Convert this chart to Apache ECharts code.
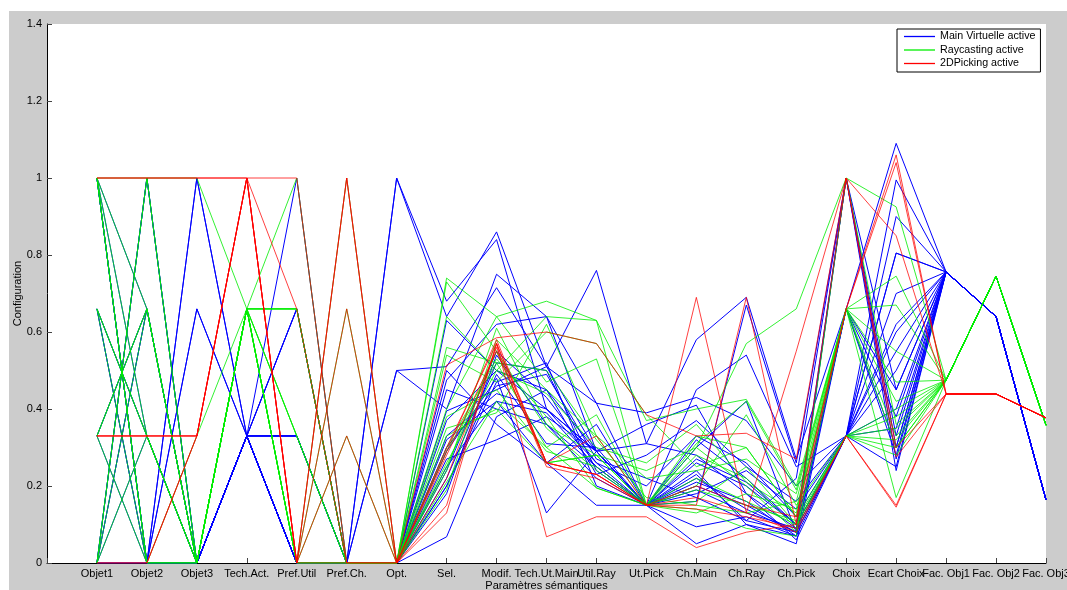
<!DOCTYPE html>
<html><head><meta charset="utf-8">
<script src="https://cdn.jsdelivr.net/npm/echarts/dist/echarts.min.js"></script>
<style>
html,body{margin:0;padding:0;background:#fff;}
#bg{position:absolute;left:9px;top:11px;width:1058px;height:579px;background:#cccccc;}
#chart{position:absolute;left:0;top:0;width:1067px;height:590px;}
</style></head><body><div id="bg"></div><div id="chart"></div>
<script>
const categories = ['Objet1','Objet2','Objet3','Tech.Act.','Pref.Util','Pref.Ch.','Opt.','Sel.','Modif.','Tech.Ut.Main','Util.Ray','Ut.Pick','Ch.Main','Ch.Ray','Ch.Pick','Choix','Ecart Choix','Fac. Obj1','Fac. Obj2','Fac. Obj3'];
const seriesNames = ['Main Virtuelle active','Raycasting active','2DPicking active'];
const yMin = 0, yMax = 1.4, yStep = 0.2;

// Fac. Obj1..3 values shared by each group
const facBlue  = [0.756, 0.64, 0.164];
const facGreen = [0.475, 0.745, 0.358];
const facRed   = [0.439, 0.439, 0.377];

// first 17 axes (Objet1 .. Ecart Choix)
const blueLines = [
  [0,0,1,0.33,1,0,1,0.64,0.86,0.51,0.76,0.31,0.58,0.69,0.27,0.66,1.09],
  [1,0,0,0.33,0.66,0,1,0.68,0.84,0.40,0.29,0.15,0.45,0.54,0.25,0.33,0.995],
  [0,0,0.66,0.33,0,0,0.5,0.40,0.75,0.64,0.415,0.39,0.43,0.37,0.20,0.33,0.90],
  [0.66,0.33,0,0.33,0.33,0,0.5,0.51,0.715,0.51,0.29,0.15,0.32,0.22,0.10,0.33,0.805],
  [1,0,0,0.33,0,0,0,0.475,0.62,0.64,0.29,0.15,0.094,0.12,0.07,0.33,0.805],
  [0,1,0,0.33,0.33,0,0,0.395,0.45,0.51,0.415,0.15,0.20,0.15,0.08,0.33,0.70],
  [0.33,0.66,0,0.33,0,0,0,0.37,0.50,0.40,0.29,0.31,0.28,0.18,0.09,0.33,0.60],
  [0,0.66,0,0.33,0.66,0,0,0.29,0.48,0.13,0.29,0.15,0.05,0.10,0.07,0.66,0.30],
  [1,0,1,0.33,0,0,0,0.25,0.42,0.26,0.15,0.15,0.22,0.14,0.08,1,0.33],
  [0.33,0,0,0.33,0,0,0,0.22,0.52,0.50,0.24,0.15,0.26,0.20,0.10,1,0.27],
  [0,1,0,0.33,0.33,0,0,0.068,0.38,0.45,0.29,0.36,0.41,0.18,0.06,0.33,0.50],
  [1,0.66,0,0.33,0,0,0,0.30,0.46,0.49,0.27,0.22,0.17,0.11,0.08,0.33,0.55],
  [0.66,0.33,0,0.33,0,0,0,0.27,0.32,0.38,0.29,0.15,0.19,0.13,0.09,0.66,0.45],
  [0,0.33,0,0.33,0.33,0,0,0.33,0.44,0.40,0.26,0.20,0.33,0.26,0.12,0.33,0.40],
  [1,0,0,0.33,0,0,0,0.20,0.49,0.31,0.30,0.15,0.18,0.24,0.14,0.33,0.35],
  [0.33,0.66,0,0.33,0.66,0,0,0.24,0.55,0.43,0.26,0.15,0.21,0.16,0.07,0.66,0.38],
  [0.66,0,0.66,0.33,0,0,0,0.45,0.40,0.36,0.25,0.15,0.27,0.21,0.10,0.33,0.25],
  [1,0,0,0.33,0,0,0,0.20,0.47,0.52,0.20,0.15,0.23,0.11,0.22,1,0.30],
  [0,1,0,0.33,0.33,0,0,0.63,0.50,0.45,0.23,0.28,0.37,0.25,0.16,0.33,0.62],
  [0.66,0,0,0.33,0,0,0,0.32,0.42,0.39,0.25,0.15,0.24,0.10,0.05,0.66,0.28],
  [1,0.33,0,0.33,0,0,0,0.50,0.36,0.26,0.36,0.15,0.30,0.42,0.08,1,0.45],
  [0,0.66,0,0.33,0,0,0,0.18,0.54,0.36,0.22,0.15,0.16,0.67,0.26,1,0.24]
];
const greenLines = [
  [1,1,1,0.66,0,1,0,0.74,0.64,0.68,0.63,0.15,0.30,0.57,0.66,1,0.925],
  [1,0,0,0.66,0.66,0,0,0.64,0.50,0.64,0.63,0.37,0.40,0.425,0.20,0.66,0.745],
  [0,1,0,0.66,0,0.66,0,0.54,0.47,0.60,0.57,0.385,0.25,0.30,0.12,0.66,0.67],
  [0.66,0.33,0,0.66,0.33,0,0,0.40,0.64,0.47,0.53,0.15,0.20,0.385,0.15,0.33,0.40],
  [0.33,0.66,0,0.66,1,0,0,0.29,0.52,0.30,0.385,0.15,0.16,0.25,0.10,0.33,0.35],
  [0,0.66,0,0.66,0,0.33,0,0.25,0.55,0.26,0.28,0.24,0.30,0.20,0.08,0.66,0.30],
  [0.33,0,0,0.66,0.66,0,0,0.21,0.42,0.30,0.195,0.15,0.13,0.18,0.14,0.66,0.17],
  [1,0.66,0,0.66,0,0,0,0.33,0.40,0.26,0.28,0.15,0.28,0.22,0.09,0.33,0.32],
  [0,0.33,0,0.66,0.33,0,0,0.19,0.58,0.45,0.33,0.15,0.33,0.30,0.12,0.33,0.38],
  [1,0,0.33,0.66,0,0,0,0.30,0.53,0.38,0.195,0.15,0.14,0.09,0.07,1,0.36],
  [0.66,0,0,0.66,0,0,0,0.35,0.39,0.62,0.33,0.22,0.24,0.27,0.18,0.66,0.42],
  [0,1,0,0.66,0.66,0,0,0.24,0.61,0.36,0.28,0.15,0.19,0.15,0.11,0.33,0.30],
  [1,0.33,0,0.66,0,0,0,0.26,0.50,0.44,0.30,0.26,0.36,0.21,0.13,0.66,0.55],
  [0.33,0.66,0,0.66,0.33,0,0,0.38,0.45,0.29,0.25,0.15,0.22,0.16,0.10,0.33,0.28],
  [1,0,0,0.66,0,0,0,0.56,0.52,0.50,0.32,0.17,0.15,0.13,0.16,0.66,0.33],
  [0.66,0.33,0,0.66,0.66,0,0,0.73,0.55,0.35,0.24,0.15,0.31,0.42,0.19,0.66,0.47]
];
const redLines = [
  [1,1,1,1,1,0,0,0.514,0.585,0.60,0.57,0.385,0.33,0.337,0.27,1,0.85],
  [0.33,0.33,0.33,1,0,1,0,0.15,0.57,0.26,0.23,0.15,0.69,0.13,0.08,0.33,0.145],
  [0.33,0.33,0.33,1,0,0.66,0,0.13,0.57,0.068,0.12,0.12,0.04,0.08,0.10,0.66,1.04],
  [0,0,0.33,1,0,0.33,0,0.28,0.55,0.26,0.23,0.15,0.15,0.69,0.10,1,0.30],
  [1,1,1,1,0.66,0,0,0.30,0.57,0.26,0.33,0.15,0.17,0.13,0.55,1,0.275],
  [0.33,0.33,0.33,1,0,0,0,0.29,0.58,0.26,0.23,0.15,0.20,0.15,0.12,0.66,1.06],
  [0,0,0.33,1,0,1,0,0.22,0.56,0.25,0.22,0.15,0.14,0.12,0.09,0.33,0.15]
];

const groups = [
  {name: seriesNames[0], color: '#0000ff', lines: blueLines, fac: facBlue, opacity: 1},
  {name: seriesNames[1], color: '#00ee00', lines: greenLines, fac: facGreen, opacity: 0.8},
  {name: seriesNames[2], color: '#ff0000', lines: redLines, fac: facRed, opacity: 0.75}
];

const series = [];
groups.forEach(g => {
  g.lines.forEach(vals => {
    const full = vals.concat(g.fac);
    series.push({
      name: g.name, type: 'line', symbol: 'none', silent: true,
      color: g.color,
      lineStyle: {color: g.color, width: 1, opacity: g.opacity},
      data: full.map((v, i) => [i + 1, v])
    });
  });
});

const chart = echarts.init(document.getElementById('chart'), null, {renderer: 'canvas'});
const font = '"Liberation Sans", Arial, Helvetica, sans-serif';
chart.setOption({
  animation: false,
  backgroundColor: 'transparent',
  grid: {left: 47, right: 21, top: 24, bottom: 27, show: true, backgroundColor: '#ffffff', borderWidth: 0,
         containLabel: false, outerBoundsMode: 'none'},
  legend: {
    data: seriesNames.map((n, i) => ({name: n, itemStyle: {color: groups[i].color}})),
    orient: 'vertical', left: 897, top: 29,
    icon: 'rect', itemWidth: 31, itemHeight: 1.3, itemGap: 2.5,
    padding: [2, 5, 3, 7],
    backgroundColor: '#ffffff', borderColor: '#000000', borderWidth: 1,
    textStyle: {fontFamily: font, fontSize: 10.7, color: '#000'},
    selectedMode: false
  },
  xAxis: {
    type: 'value', min: 0, max: 20, interval: 1,
    name: 'Paramètres sémantiques', nameLocation: 'middle', nameGap: 17, nameMoveOverlap: false,
    nameTextStyle: {fontFamily: font, fontSize: 11, color: '#000'},
    axisLine: {show: true, lineStyle: {color: '#000', width: 1}},
    axisTick: {show: true, inside: true, length: 5, lineStyle: {color: '#444'}},
    axisLabel: {fontFamily: font, fontSize: 11, color: '#000', margin: 5,
      formatter: v => (v >= 1 && v <= categories.length) ? categories[v - 1] : ''},
    splitLine: {show: false}
  },
  yAxis: {
    type: 'value', min: yMin, max: yMax, interval: yStep,
    name: 'Configuration', nameLocation: 'middle', nameGap: 24, nameRotate: 90, nameMoveOverlap: false,
    nameTextStyle: {fontFamily: font, fontSize: 11, color: '#000'},
    axisLine: {show: true, lineStyle: {color: '#000', width: 1}},
    axisTick: {show: true, inside: true, length: 5, lineStyle: {color: '#444'}},
    axisLabel: {fontFamily: font, fontSize: 11, color: '#000', margin: 5},
    splitLine: {show: false}
  },
  series: series
});
</script></body></html>
